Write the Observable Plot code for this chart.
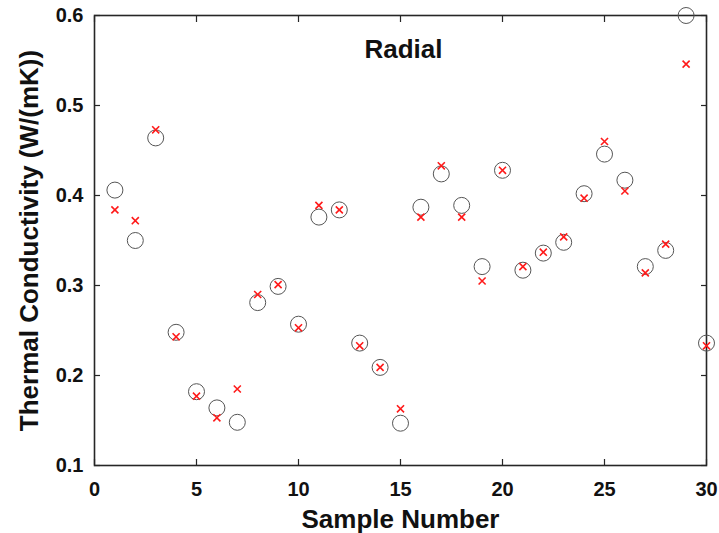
<!DOCTYPE html>
<html>
<head>
<meta charset="utf-8">
<script src="https://cdn.jsdelivr.net/npm/d3@7"></script>
<script src="https://cdn.jsdelivr.net/npm/@observablehq/plot@0.6"></script>
<style>
  html, body { margin: 0; padding: 0; background: #fff; }
  #chart svg { display: block; }
</style>
</head>
<body>
<div id="chart"></div>
<script>
const samples = d3.range(1, 31);
const measured = [0.406,0.350,0.464,0.248,0.182,0.164,0.148,0.281,0.299,0.257,0.376,0.384,0.236,0.209,0.147,0.387,0.424,0.389,0.321,0.428,0.317,0.336,0.348,0.402,0.446,0.417,0.321,0.339,0.600,0.236];
const predicted = [0.384,0.372,0.473,0.243,0.177,0.153,0.185,0.290,0.301,0.253,0.389,0.384,0.233,0.209,0.163,0.376,0.433,0.376,0.305,0.428,0.321,0.337,0.354,0.397,0.460,0.405,0.314,0.346,0.546,0.233];
const xTicks = [0, 5, 10, 15, 20, 25, 30];
const yTicks = [0.1, 0.2, 0.3, 0.4, 0.5, 0.6];
const titleText = "Radial";
const xLabel = "Sample Number";
const yLabel = "Thermal Conductivity (W/(mK))";

const circleData = samples.map((s, i) => ({s, v: measured[i]}));
const crossData = samples.map((s, i) => ({s, v: predicted[i]}));

const axisColor = "#262626";
const chart = Plot.plot({
  width: 719,
  height: 533,
  marginLeft: 94,
  marginRight: 13,
  marginTop: 15,
  marginBottom: 68,
  style: {fontFamily: "'Liberation Sans', Arial, Helvetica, sans-serif", fontWeight: "bold", color: "#111"},
  x: {domain: [0, 30]},
  y: {domain: [0.1, 0.6]},
  marks: [
    Plot.axisX(xTicks, {anchor: "bottom", tickSize: -6, tickPadding: 22, fontSize: 20, stroke: axisColor, strokeWidth: 1.2, label: null, tickFormat: d => String(d)}),
    Plot.axisX(xTicks, {anchor: "top", tickSize: -6, text: null, stroke: axisColor, strokeWidth: 1.2, label: null}),
    Plot.axisY(yTicks, {anchor: "left", tickSize: -6, tickPadding: 17, fontSize: 20, stroke: axisColor, strokeWidth: 1.2, label: null, tickFormat: d => d.toFixed(1)}),
    Plot.axisY(yTicks, {anchor: "right", tickSize: -6, text: null, stroke: axisColor, strokeWidth: 1.2, label: null}),
    Plot.frame({stroke: axisColor, strokeWidth: 1.6}),
    Plot.dot(circleData, {x: "s", y: "v", r: 8, stroke: "#555", strokeWidth: 1, fill: "none"}),
    Plot.dot(crossData, {x: "s", y: "v", symbol: "times", r: 3.3, stroke: "#ff1a1a", strokeWidth: 1.6}),
    Plot.text([titleText], {frameAnchor: "top", dx: 3, dy: 24, fontSize: 26, fontWeight: "bold", fill: "#111"}),
    Plot.text([xLabel], {frameAnchor: "bottom", dy: 62, fontSize: 26, fontWeight: "bold", fill: "#111"}),
    Plot.text([yLabel], {frameAnchor: "left", textAnchor: "middle", dx: -65, rotate: -90, fontSize: 26, fontWeight: "bold", fill: "#111"})
  ]
});
document.getElementById("chart").append(chart);
</script>
</body>
</html>
